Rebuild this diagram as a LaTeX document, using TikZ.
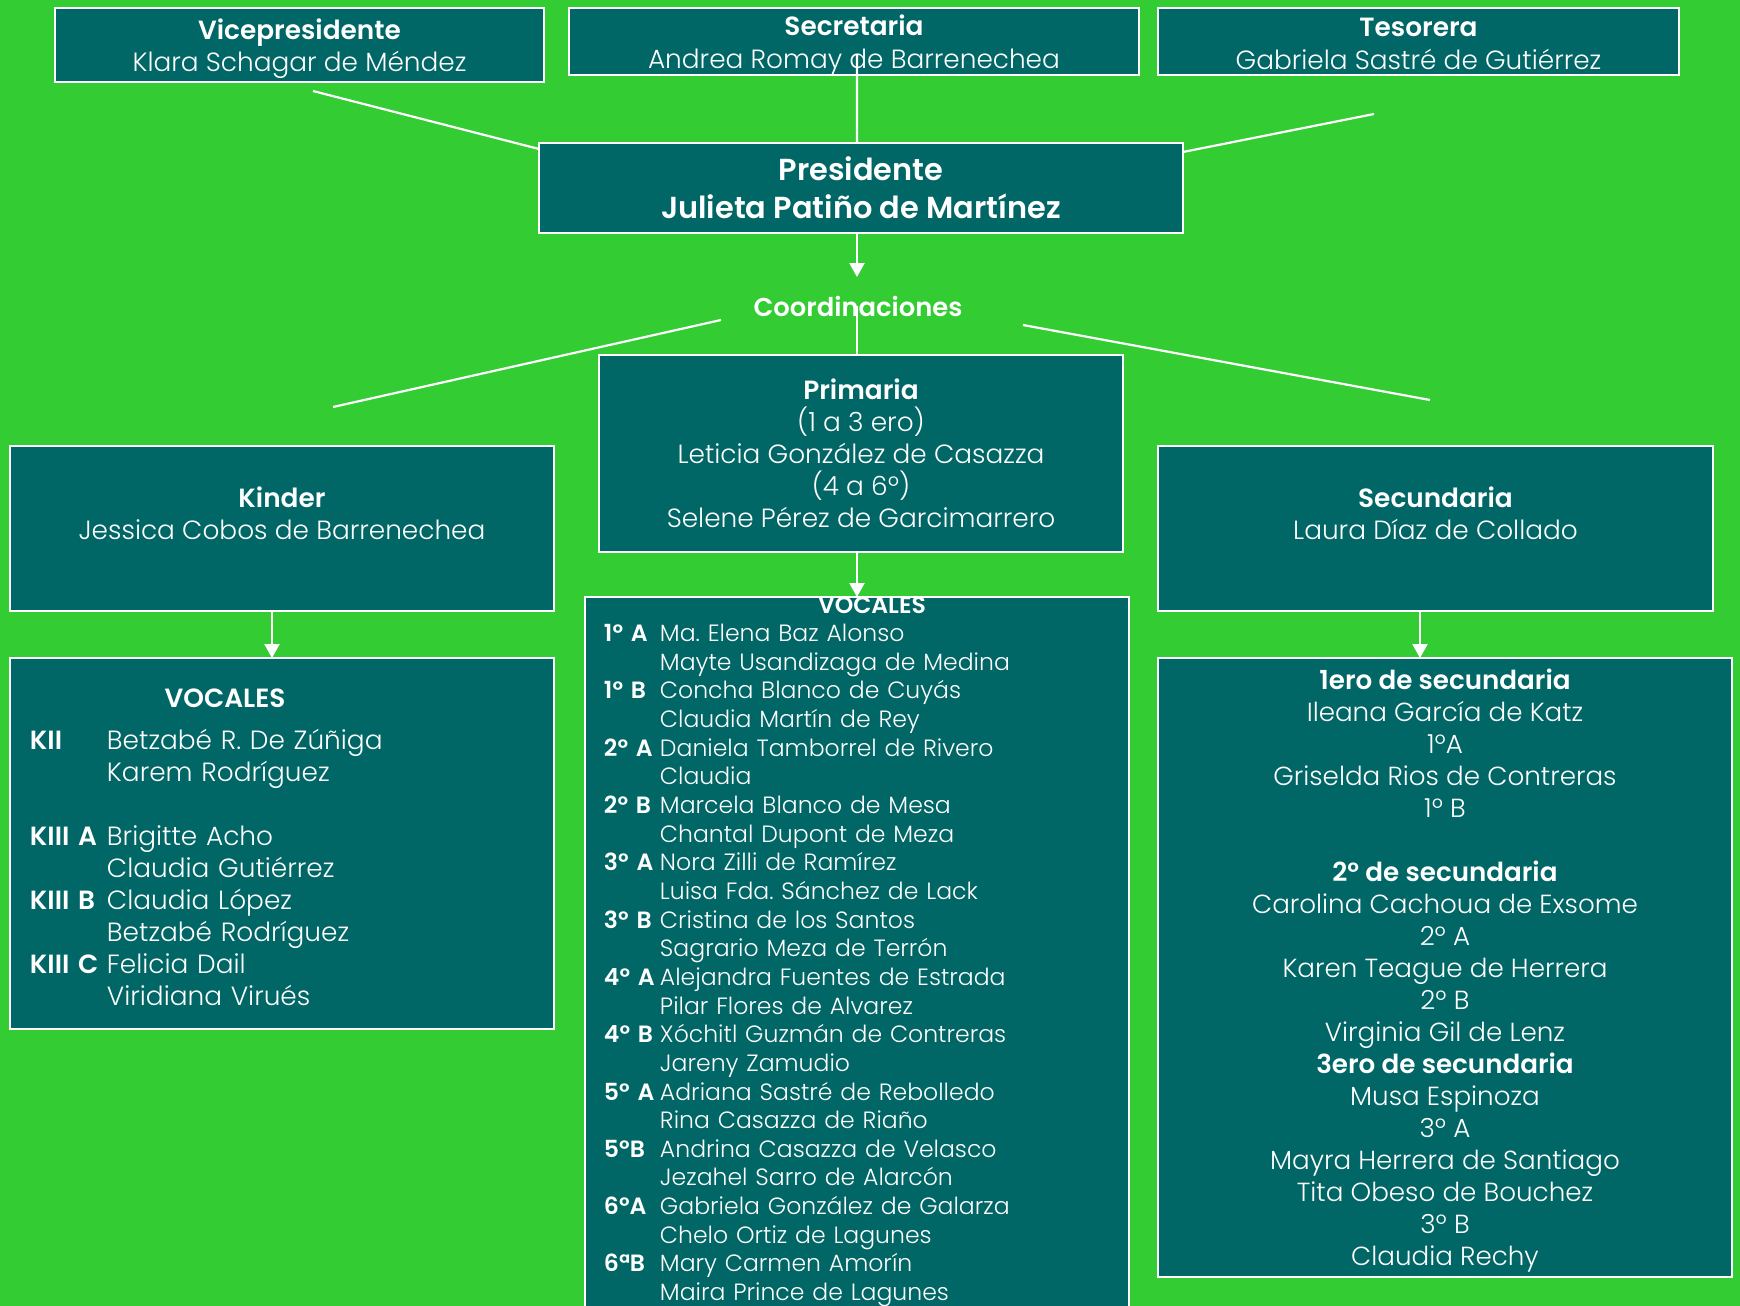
\documentclass[tikz,border=0pt]{standalone}
\usepackage{fontspec}
\IfFontExistsTF{Poppins Light}
  {\IfFontExistsTF{Poppins SemiBold}
     {\setmainfont{Poppins Light}[BoldFont={Poppins SemiBold}]}
     {\setmainfont{Poppins Light}[BoldFont={Poppins Bold}]}}
  {\setmainfont{Poppins}}
\usetikzlibrary{positioning,arrows.meta}
\definecolor{bggreen}{RGB}{51,204,51}
\definecolor{boxteal}{RGB}{0,102,102}
\frenchspacing

\begin{document}
\begin{tikzpicture}
[every node/.style={inner sep=0mm,outer sep=0mm,text=white,align=center},
 box/.style={rectangle,draw=white,fill=boxteal,line width=1.3pt},
 ftop/.style={font=\fontsize{15}{18.4}\selectfont},
 fpres/.style={font=\bfseries\fontsize{17.3}{21.6}\selectfont},
 fmid/.style={font=\fontsize{15}{18.2}\selectfont},
 flist/.style={font=\fontsize{13.4}{16.3}\selectfont},
 link/.style={white,line width=1.25pt},
 down/.style={-{Triangle[width=3mm,length=2.8mm]}}]

% page
\useasboundingbox (-172.2mm,37.6mm) rectangle (175.8mm,-223.6mm);
\fill[bggreen] (-172.2mm,37.6mm) rectangle (175.8mm,-223.6mm);
\clip (-172.2mm,37.6mm) rectangle (175.8mm,-223.6mm);

% mesa directiva
\node[box,fpres,minimum width=128.8mm,minimum height=18mm] (Pres) at (0,0)
  {Presidente\\Julieta Patiño de Martínez};
\node[box,ftop,minimum width=97.8mm,minimum height=14.8mm] (Vice)
  [on grid,above left=28.6mm and 112.3mm of Pres]
  {\rule{0pt}{1.05em}\textbf{Vicepresidente}\\Klara Schagar de Méndez};
\node[box,ftop,minimum width=114mm,minimum height=13.4mm] (Secr)
  [on grid,above left=29.3mm and 1.4mm of Pres]
  {\rule{0pt}{1.05em}\textbf{Secretaria}\\Andrea Romay de Barrenechea};
\node[box,ftop,minimum width=104.2mm,minimum height=13.4mm] (Tes)
  [on grid,above right=29.3mm and 111.5mm of Pres]
  {\rule{0pt}{0.87em}\textbf{Tesorera}\\Gabriela Sastré de Gutiérrez};

% coordinaciones
\node[font=\bfseries\fontsize{14.7}{17.6}\selectfont] (Coord)
  [on grid,below left=23.6mm and 0.6mm of Pres] {Coordinaciones};
\node[box,fmid,minimum width=104.8mm,minimum height=39.4mm] (Prim)
  [on grid,below=53.1mm of Pres]
  {\textbf{Primaria}\\(1 a 3 ero)\\Leticia González de Casazza\\(4 a 6º)\\Selene Pérez de Garcimarrero};
\node[box,fmid,minimum width=108.8mm,minimum height=33mm] (Kind)
  [on grid,below left=68.1mm and 115.8mm of Pres]
  {\textbf{Kinder}\\Jessica Cobos de Barrenechea\\[-2.2mm] \strut};
\node[box,fmid,minimum width=111mm,minimum height=33mm] (Secu)
  [on grid,below right=68.1mm and 114.9mm of Pres]
  {\textbf{Secundaria}\\Laura Díaz de Collado\\[-2.2mm] \strut};

% vocales
\node[box,fmid,minimum width=108.8mm,minimum height=74.2mm,inner xsep=4mm,
      text width=100.8mm,align=left] (KVoc)
  [on grid,below=63mm of Kind]
  {\begin{tabular}{@{}p{15.4mm}@{}l@{}}
   \multicolumn{2}{@{}l@{}}{\rule{0pt}{7.1mm}\hspace*{39mm}\makebox[0pt]{\textbf{VOCALES}}}\\[2mm]
   \textbf{KII}    & Betzabé R. De Zúñiga\\
                   & Karem Rodríguez\\
                   & \\
   \textbf{KIII A} & Brigitte Acho\\
                   & Claudia Gutiérrez\\
   \textbf{KIII B} & Claudia López\\
                   & Betzabé Rodríguez\\
   \textbf{KIII C} & Felicia Dail\\
                   & Viridiana Virués
   \end{tabular}};

\node[box,minimum width=108.8mm,minimum height=143.8mm] (PVoc)
  [on grid,below left=100.6mm and 0.8mm of Prim] {};
\node[flist,anchor=north west,text width=101mm,align=left] (PVocList)
  at ([xshift=3.8mm,yshift=0.8mm]PVoc.north west)
  {\begin{tabular}{@{}p{11.2mm}@{}l@{}}
   \multicolumn{2}{@{}l@{}}{\hspace*{53.6mm}\makebox[0pt]{\textbf{VOCALES}}}\\
   \textbf{1º A} & Ma. Elena Baz Alonso\\
                 & Mayte Usandizaga de Medina\\
   \textbf{1º B} & Concha Blanco de Cuyás\\
                 & Claudia Martín de Rey\\
   \textbf{2º A} & Daniela Tamborrel de Rivero\\
                 & Claudia\\
   \textbf{2º B} & Marcela Blanco de Mesa\\
                 & Chantal Dupont de Meza\\
   \textbf{3º A} & Nora Zilli de Ramírez\\
                 & Luisa Fda. Sánchez de Lack\\
   \textbf{3º B} & Cristina de los Santos\\
                 & Sagrario Meza de Terrón\\
   \textbf{4º A} & Alejandra Fuentes de Estrada\\
                 & Pilar Flores de Alvarez\\
   \textbf{4º B} & Xóchitl Guzmán de Contreras\\
                 & Jareny Zamudio\\
   \textbf{5º A} & Adriana Sastré de Rebolledo\\
                 & Rina Casazza de Riaño\\
   \textbf{5ºB}  & Andrina Casazza de Velasco\\
                 & Jezahel Sarro de Alarcón\\
   \textbf{6ºA}  & Gabriela González de Galarza\\
                 & Chelo Ortiz de Lagunes\\
   \textbf{6ªB}  & Mary Carmen Amorín\\
                 & Maira Prince de Lagunes
   \end{tabular}};

\node[box,font=\fontsize{14.9}{18.2}\selectfont,minimum width=114.8mm,minimum height=123.8mm] (SVoc)
  [on grid,below right=87.8mm and 1.9mm of Secu]
  {\rule{0pt}{1em}\textbf{1ero de secundaria}\\Ileana García de Katz\\1ºA\\Griselda Rios de Contreras\\1º B\\ \strut\\
   \textbf{2º de secundaria}\\Carolina Cachoua de Exsome\\2º A\\Karen Teague de Herrera\\2º B\\Virginia Gil de Lenz\\
   \textbf{3ero de secundaria}\\Musa Espinoza\\3º A\\Mayra Herrera de Santiago\\Tita Obeso de Bouchez\\3º B\\Claudia Rechy};

% conectores
\coordinate (CoordTip) at ([xshift=-0.8mm,yshift=-8.8mm]Pres.south);

\path[link] ([xshift=2.7mm,yshift=-1.8mm]Vice.south)   edge ([yshift=-1.2mm]Pres.north west);
\path[link] ([xshift=0.6mm,yshift=-2.7mm]Secr.center)  edge ([xshift=-0.8mm]Pres.north);
\path[link] ([yshift=-1.8mm]Pres.north east)           edge ([xshift=-8.9mm,yshift=-7.8mm]Tes.south);
\path[link,down] ([xshift=-0.8mm]Pres.south)           edge (CoordTip);

\path[link] ([xshift=-0.2mm]Coord.center)              edge ([xshift=-0.8mm]Prim.north);
\path[link] ([xshift=-27.4mm,yshift=-2.8mm]Coord.center) edge ([xshift=10.2mm,yshift=7.8mm]Kind.north);
\path[link] ([xshift=33mm,yshift=-3.8mm]Coord.center)  edge ([xshift=-1.1mm,yshift=9.2mm]Secu.north);

\path[link,down] ([xshift=-2mm]Kind.south)   edge ([xshift=-2mm]KVoc.north);
\path[link,down] ([xshift=-0.8mm]Prim.south) edge (PVoc.north);
\path[link,down] ([xshift=-3.1mm]Secu.south) edge ([xshift=-5mm]SVoc.north);

\end{tikzpicture}
\end{document}
